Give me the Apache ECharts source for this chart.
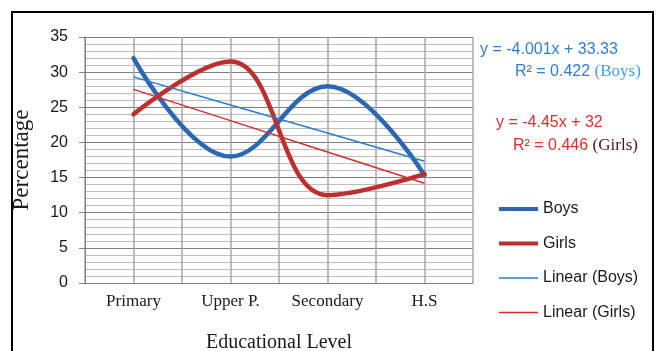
<!DOCTYPE html>
<html>
<head>
<meta charset="utf-8">
<script src="https://cdn.jsdelivr.net/npm/echarts@6/dist/echarts.min.js"></script>
<style>
  html, body { margin: 0; padding: 0; background: #fff; }
  #chart { width: 658px; height: 351px; }
</style>
</head>
<body>
<div id="chart"></div>
<script>
// values
const levels = ['Primary', 'Upper P.', 'Secondary', 'H.S'];
const boys = [32, 18, 28, 15.33];
const girls = [24, 31.5, 12.5, 15.5];
// trendlines, from the equations printed on the chart
const boysTrend = [29.33, 25.33, 21.33, 17.33];
const girlsTrend = [27.55, 23.1, 18.65, 14.2];

const blue = '#2c67b1';
const red = '#bd2f2e';
const blueTrend = '#2a7bd0';
const redTrend = '#d62c2c';
const sans = '"Liberation Sans", Arial, sans-serif';
const serif = '"Liberation Serif", "Times New Roman", serif';

// legend swatches: a bar inside a 39x14 box (the empty moves keep the box size)
const thickIcon = 'path://M0,0L0,0M0,5L39,5L39,9L0,9ZM39,14L39,14';
const thinIcon = 'path://M0,0L0,0M0,6.2L39,6.2L39,7.8L0,7.8ZM39,14L39,14';

const chart = echarts.init(document.getElementById('chart'), null, { renderer: 'canvas' });

chart.setOption({
  animation: false,
  backgroundColor: '#fff',
  grid: { left: 85, right: 185, top: 37, bottom: 68, containLabel: false, outerBoundsMode: 'none' },
  legend: {
    orient: 'vertical',
    left: 494,
    top: 196,
    itemWidth: 39,
    itemHeight: 14,
    itemGap: 18.5,
    textStyle: { fontFamily: sans, fontSize: 16, color: '#1a1a1a' },
    data: [
      { name: 'Boys', icon: thickIcon },
      { name: 'Girls', icon: thickIcon },
      { name: 'Linear (Boys)', icon: thinIcon },
      { name: 'Linear (Girls)', icon: thinIcon }
    ]
  },
  xAxis: [{
    type: 'category',
    data: levels,
    boundaryGap: true,
    axisLine: { show: true, lineStyle: { color: '#7f7f7f', width: 1 } },
    axisTick: { show: false },
    splitLine: { show: false },
    axisLabel: { fontFamily: serif, fontSize: 17, color: '#1a1a1a', margin: 10 },
    name: 'Educational Level',
    nameLocation: 'middle',
    nameGap: 50,
    nameTextStyle: { fontFamily: serif, fontSize: 20, color: '#1a1a1a' }
  }, {
    // only there to draw the vertical gridlines
    type: 'value',
    position: 'bottom',
    min: 0,
    max: 8,
    interval: 1,
    axisLine: { show: false },
    axisTick: { show: false },
    axisLabel: { show: false },
    splitLine: { show: true, lineStyle: { color: '#a9a9a9', width: 1.5 } }
  }],
  yAxis: {
    type: 'value',
    min: 0,
    max: 35,
    interval: 5,
    axisLine: { show: true, lineStyle: { color: '#7f7f7f', width: 1 } },
    axisTick: { show: true, length: 6, lineStyle: { color: '#7f7f7f' } },
    axisLabel: { fontFamily: sans, fontSize: 16, color: '#1a1a1a', margin: 17 },
    splitLine: { show: true, lineStyle: { color: '#7f7f7f', width: 1 } },
    minorTick: { show: false, splitNumber: 5 },
    minorSplitLine: { show: true, lineStyle: { color: '#bdbdbd', width: 1 } },
    name: 'Percentage',
    nameLocation: 'middle',
    nameRotate: 90,
    nameGap: 52,
    nameTextStyle: { fontFamily: serif, fontSize: 23, color: '#1a1a1a' }
  },
  series: [{
    name: 'Boys',
    type: 'line',
    data: boys,
    smooth: 0.4,
    symbol: 'none',
    color: blue,
    lineStyle: { color: blue, width: 4.5, cap: 'round' },
    z: 2
  }, {
    name: 'Girls',
    type: 'line',
    data: girls,
    smooth: 0.4,
    symbol: 'none',
    color: red,
    lineStyle: { color: red, width: 4.5, cap: 'round' },
    z: 2
  }, {
    name: 'Linear (Boys)',
    type: 'line',
    data: boysTrend,
    symbol: 'none',
    color: blueTrend,
    lineStyle: { color: blueTrend, width: 1.5 },
    z: 3
  }, {
    name: 'Linear (Girls)',
    type: 'line',
    data: girlsTrend,
    symbol: 'none',
    color: redTrend,
    lineStyle: { color: redTrend, width: 1.5 },
    z: 3
  }],
  graphic: [{
    type: 'rect',
    shape: { x: 12, y: 12, width: 641, height: 400 },
    style: { fill: 'none', stroke: '#000', lineWidth: 2 },
    silent: true
  }, {
    type: 'text',
    left: 480,
    top: 42,
    style: { text: 'y = -4.001x + 33.33', font: '16px ' + sans, fill: '#2f7ed4' }
  }, {
    type: 'text',
    left: 515,
    top: 63,
    style: {
      text: '{a|R² = 0.422 }{b|(Boys)}',
      rich: {
        a: { font: '16px ' + sans, fill: '#2f7ed4' },
        b: { font: '17px ' + serif, fill: '#42a0ea' }
      }
    }
  }, {
    type: 'text',
    left: 496,
    top: 115,
    style: { text: 'y = -4.45x + 32', font: '16px ' + sans, fill: '#de2f2b' }
  }, {
    type: 'text',
    left: 513,
    top: 137,
    style: {
      text: '{a|R² = 0.446 }{b|(Girls)}',
      rich: {
        a: { font: '16px ' + sans, fill: '#de2f2b' },
        b: { font: '17px ' + serif, fill: '#4d1717' }
      }
    }
  }]
});
</script>
</body>
</html>
